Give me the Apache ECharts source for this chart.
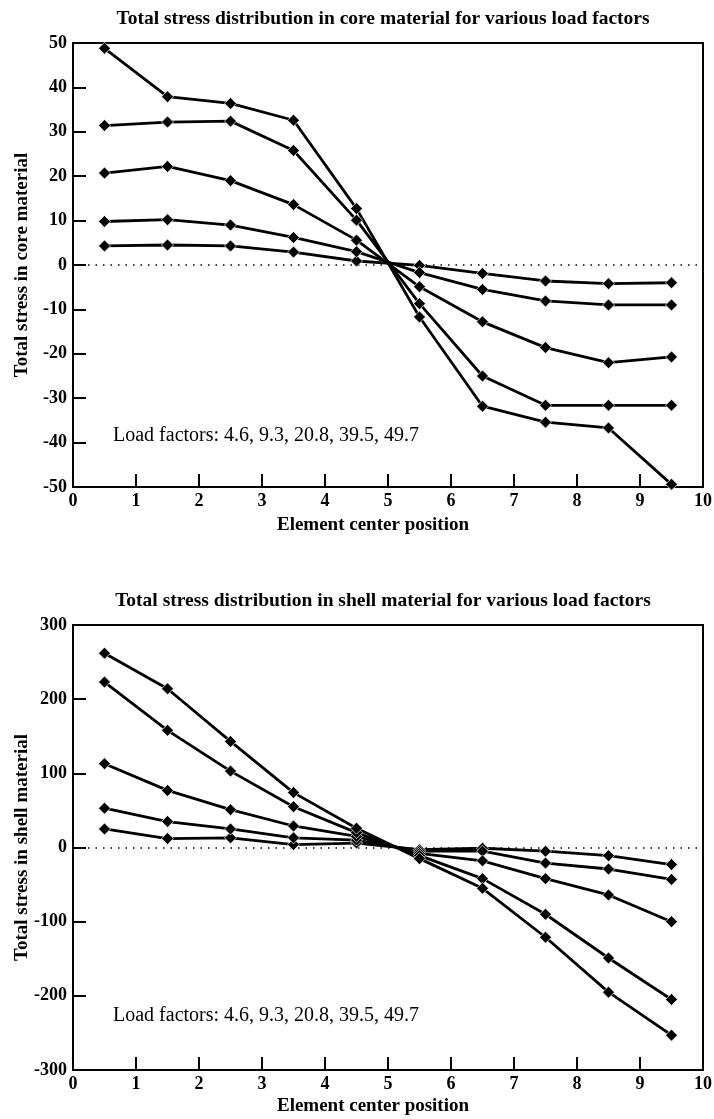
<!DOCTYPE html>
<html>
<head>
<meta charset="utf-8">
<script src="https://cdn.jsdelivr.net/npm/echarts@6/dist/echarts.min.js"></script>
<style>
html,body{margin:0;padding:0;background:#fff;}
#chart{width:714px;height:1119px;}
</style>
</head>
<body>
<div id="chart"></div>
<script>
// Element center positions (x)
const positions = [0.5, 1.5, 2.5, 3.5, 4.5, 5.5, 6.5, 7.5, 8.5, 9.5];
const loadFactors = ['4.6', '9.3', '20.8', '39.5', '49.7'];

// Core material total stress, one array per load factor
const core_4_6  = [4.3, 4.5, 4.3, 2.9, 0.9, -0.1, -1.9, -3.6, -4.2, -4.0];
const core_9_3  = [9.8, 10.2, 9.0, 6.2, 3.0, -1.7, -5.5, -8.1, -9.0, -9.0];
const core_20_8 = [20.7, 22.2, 19.0, 13.6, 5.6, -4.9, -12.8, -18.6, -22.0, -20.7];
const core_39_5 = [31.4, 32.2, 32.4, 25.8, 10.1, -8.7, -25.0, -31.6, -31.6, -31.6];
const core_49_7 = [48.8, 37.9, 36.4, 32.6, 12.7, -11.7, -31.8, -35.4, -36.7, -49.4];

// Shell material total stress, one array per load factor
const shell_4_6  = [25, 12, 13, 4, 6, -3, -1, -5, -11, -23];
const shell_9_3  = [53, 35, 25, 13, 10, -5, -5, -21, -29, -43];
const shell_20_8 = [113, 77, 51, 29, 15, -8, -18, -42, -64, -100];
const shell_39_5 = [223, 158, 103, 55, 20, -11, -42, -90, -149, -205];
const shell_49_7 = [262, 214, 143, 74, 26, -15, -55, -121, -195, -253];

// Axis ranges / ticks
const xMin = 0, xMax = 10, xInterval = 1;
const coreYMin = -50, coreYMax = 50, coreYInterval = 10;
const shellYMin = -300, shellYMax = 300, shellYInterval = 100;

const coreTitle = 'Total stress distribution in core material for various load factors';
const shellTitle = 'Total stress distribution in shell material for various load factors';
const coreYName = 'Total stress in core material';
const shellYName = 'Total stress in shell material';
const xName = 'Element center position';
const noteText = 'Load factors: ' + loadFactors.join(', ');

const coreSeries = [core_4_6, core_9_3, core_20_8, core_39_5, core_49_7];
const shellSeries = [shell_4_6, shell_9_3, shell_20_8, shell_39_5, shell_49_7];

const FONT = 'Liberation Serif';

function pairs(vals) { return positions.map((x, i) => [x, vals[i]]); }

function makeSeries(list, idx) {
  return list.map((vals, k) => {
    const s = {
      type: 'line',
      name: loadFactors[k],
      xAxisIndex: idx, yAxisIndex: idx,
      data: pairs(vals),
      symbol: 'diamond',
      symbolSize: 12,
      showSymbol: true,
      lineStyle: { color: '#000', width: 2.8 },
      itemStyle: { color: '#000', borderColor: '#fff', borderWidth: 0.7 },
      z: 3
    };
    if (k === 0) {
      s.markLine = {
        silent: true,
        symbol: 'none',
        label: { show: false },
        lineStyle: { color: '#000', type: [1.5, 6], width: 1.5 },
        data: [{ yAxis: 0 }],
        z: 1
      };
    }
    return s;
  });
}

function xAxis(idx) {
  return {
    type: 'value', gridIndex: idx, min: xMin, max: xMax, interval: xInterval,
    name: xName, nameLocation: 'middle', nameGap: idx === 0 ? 29 : 27,
    nameMoveOverlap: false,
    nameTextStyle: { fontFamily: FONT, fontSize: 19, fontWeight: 'bold', color: '#000', padding: [0, 30, 0, 0] },
    axisLine: { show: true, onZero: false, lineStyle: { color: '#000', width: 2 } },
    axisTick: { show: true, inside: true, length: 13, lineStyle: { color: '#000', width: 2 } },
    axisLabel: { fontFamily: FONT, fontSize: 18, fontWeight: 'bold', color: '#000', margin: 5 },
    splitLine: { show: false }
  };
}
function yAxis(idx, min, max, interval, name) {
  return {
    type: 'value', gridIndex: idx, min: min, max: max, interval: interval,
    name: name, nameLocation: 'middle', nameGap: 41,
    nameMoveOverlap: false,
    nameTextStyle: { fontFamily: FONT, fontSize: 19, fontWeight: 'bold', color: '#000' },
    axisLine: { show: true, onZero: false, lineStyle: { color: '#000', width: 2 } },
    axisTick: { show: true, inside: true, length: 13, lineStyle: { color: '#000', width: 2 } },
    axisLabel: { fontFamily: FONT, fontSize: 18, fontWeight: 'bold', color: '#000', margin: 6 },
    splitLine: { show: false }
  };
}

const chart = echarts.init(document.getElementById('chart'), null, { renderer: 'canvas' });
chart.setOption({
  animation: false,
  backgroundColor: '#fff',
  title: [
    { text: coreTitle, left: 378, top: 4, textAlign: 'center',
      textStyle: { fontFamily: FONT, fontSize: 19.5, fontWeight: 'bold', color: '#000' } },
    { text: shellTitle, left: 378, top: 586, textAlign: 'center',
      textStyle: { fontFamily: FONT, fontSize: 19.5, fontWeight: 'bold', color: '#000' } }
  ],
  grid: [
    { left: 73, top: 43, width: 630, height: 444, show: true, borderColor: '#000', borderWidth: 2,
      backgroundColor: 'transparent', containLabel: false, outerBoundsMode: 'none' },
    { left: 73, top: 625, width: 630, height: 445, show: true, borderColor: '#000', borderWidth: 2,
      backgroundColor: 'transparent', containLabel: false, outerBoundsMode: 'none' }
  ],
  xAxis: [xAxis(0), xAxis(1)],
  yAxis: [
    yAxis(0, coreYMin, coreYMax, coreYInterval, coreYName),
    yAxis(1, shellYMin, shellYMax, shellYInterval, shellYName)
  ],
  graphic: [
    { type: 'text', left: 113, top: 426, style: { text: noteText, font: '20px "Liberation Serif"', fill: '#000' } },
    { type: 'text', left: 113, top: 1006, style: { text: noteText, font: '20px "Liberation Serif"', fill: '#000' } }
  ],
  series: makeSeries(coreSeries, 0).concat(makeSeries(shellSeries, 1))
});
</script>
</body>
</html>
